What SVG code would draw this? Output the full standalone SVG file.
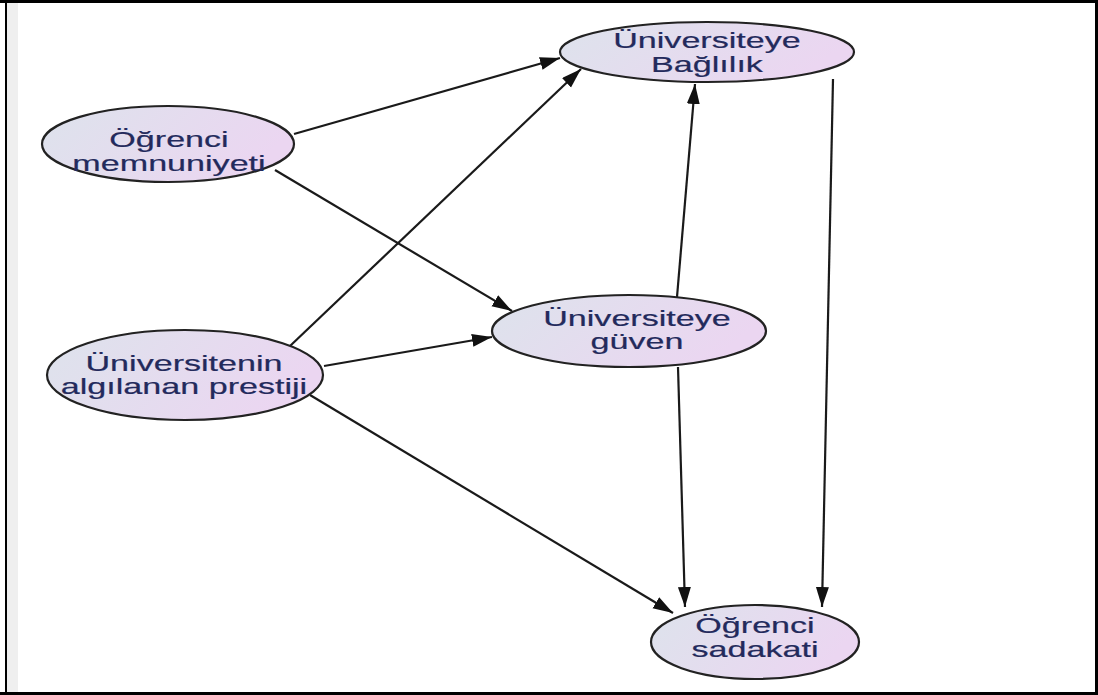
<svg xmlns="http://www.w3.org/2000/svg" width="1098" height="695" viewBox="0 0 1098 695">
  <defs>
    <linearGradient id="nodeFill" x1="0" y1="0" x2="1" y2="0.3">
      <stop offset="0" stop-color="#dde3ec"/>
      <stop offset="1" stop-color="#ebd6f1"/>
    </linearGradient>
    <marker id="arrow" markerUnits="userSpaceOnUse" markerWidth="22" markerHeight="14" refX="20" refY="6.5" orient="auto">
      <path d="M0,0 L20,6.5 L0,13 Z" fill="#111"/>
    </marker>
    <style>
      .node ellipse { fill: url(#nodeFill); stroke: #222; stroke-width: 2.2; }
      .node text { font-family: "Liberation Sans", Arial, sans-serif; font-size: 22px; fill: #232a5c; stroke: #232a5c; stroke-width: 0.2; text-anchor: middle; }
      .edges line { stroke: #1a1a1a; stroke-width: 2.2; fill: none; marker-end: url(#arrow); }
      .frame { stroke: #000; fill: none; }
    </style>
  </defs>

  <!-- page background and frame -->
  <rect x="0" y="0" width="1098" height="695" fill="#fff"/>
  <rect x="7" y="3" width="11" height="689" fill="#efefef"/>
  <line class="frame" x1="0" y1="1.5" x2="1098" y2="1.5" stroke-width="3"/>
  <line class="frame" x1="6" y1="0" x2="6" y2="695" stroke-width="2"/>
  <line class="frame" x1="1096.5" y1="0" x2="1096.5" y2="695" stroke-width="3"/>
  <line class="frame" x1="0" y1="693.5" x2="1098" y2="693.5" stroke-width="3"/>

  <!-- connectors -->
  <g id="edges" class="edges">
    <line x1="294" y1="134" x2="560" y2="58"/>
    <line x1="275" y1="170" x2="512" y2="311"/>
    <line x1="290" y1="346" x2="581" y2="69"/>
    <line x1="324" y1="366" x2="492" y2="337"/>
    <line x1="310" y1="395" x2="673" y2="613"/>
    <line x1="677" y1="297" x2="695" y2="84"/>
    <line x1="678" y1="367" x2="685" y2="607"/>
    <line x1="833" y1="79" x2="822" y2="607"/>
  </g>

  <!-- nodes -->
  <g id="node-baglilik" class="node">
    <ellipse cx="707" cy="52" rx="147" ry="30"/>
    <text transform="translate(707,48) scale(1.55,1)">Üniversiteye</text>
    <text transform="translate(707,72) scale(1.55,1)">Bağlılık</text>
  </g>
  <g id="node-memnuniyet" class="node">
    <ellipse cx="168" cy="144" rx="126" ry="38"/>
    <text transform="translate(169,147) scale(1.55,1)">Öğrenci</text>
    <text transform="translate(169,171) scale(1.55,1)">memnuniyeti</text>
  </g>
  <g id="node-prestij" class="node">
    <ellipse cx="185" cy="375" rx="138" ry="45"/>
    <text transform="translate(184,371) scale(1.55,1)">Üniversitenin</text>
    <text transform="translate(184,394) scale(1.55,1)">algılanan prestiji</text>
  </g>
  <g id="node-guven" class="node">
    <ellipse cx="629" cy="331" rx="137" ry="36"/>
    <text transform="translate(637,326) scale(1.55,1)">Üniversiteye</text>
    <text transform="translate(637,349) scale(1.55,1)">güven</text>
  </g>
  <g id="node-sadakat" class="node">
    <ellipse cx="755" cy="642" rx="104" ry="37"/>
    <text transform="translate(755,633) scale(1.55,1)">Öğrenci</text>
    <text transform="translate(755,657) scale(1.55,1)">sadakati</text>
  </g>
</svg>
